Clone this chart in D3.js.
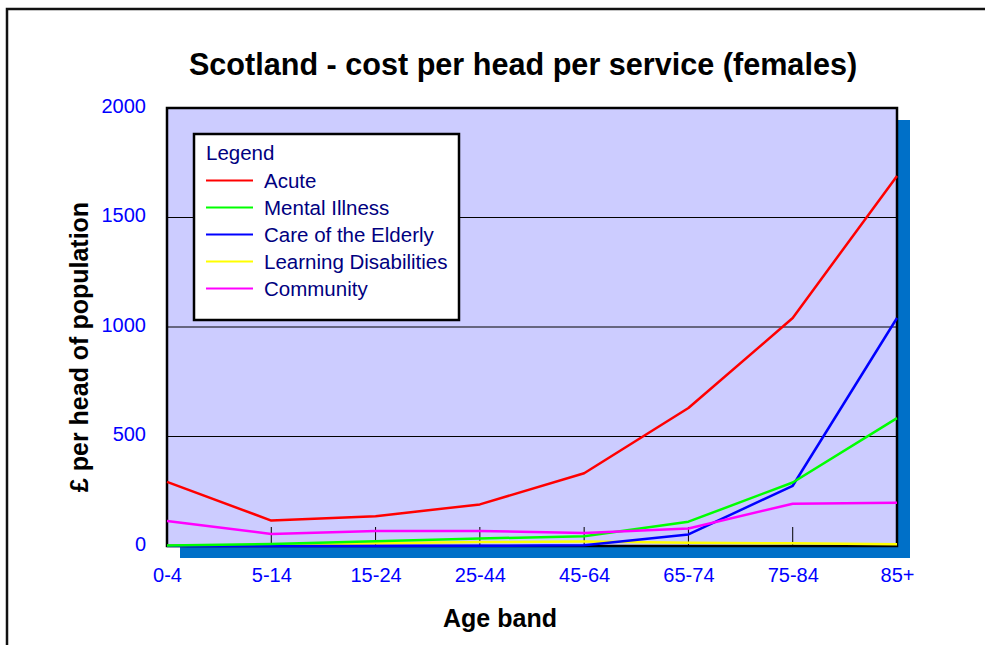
<!DOCTYPE html>
<html>
<head>
<meta charset="utf-8">
<script src="https://cdn.jsdelivr.net/npm/d3@7"></script>
<style>
  html, body { margin: 0; padding: 0; background: #fff; }
  svg { display: block; font-family: "Liberation Sans", Arial, sans-serif; }
</style>
</head>
<body>
<svg id="chart" width="985" height="645"></svg>
<script>
// Age bands along the x axis
const ageBands = ["0-4", "5-14", "15-24", "25-44", "45-64", "65-74", "75-84", "85+"];

// Cost per head (£) by service
const acute = [293, 116, 136, 190, 332, 630, 1041, 1690];
const mentalIllness = [2, 9, 22, 34, 45, 111, 290, 584];
const careOfElderly = [0, 0, 0, 1, 3, 53, 275, 1041];
const learningDisabilities = [0, 5, 12, 18, 20, 15, 12, 8];
const community = [114, 55, 69, 69, 59, 80, 193, 198];

const yTicks = [0, 500, 1000, 1500, 2000];

const services = [
  { name: "Acute", values: acute, color: "#ff0000" },
  { name: "Mental Illness", values: mentalIllness, color: "#00ff00" },
  { name: "Care of the Elderly", values: careOfElderly, color: "#0000ff" },
  { name: "Learning Disabilities", values: learningDisabilities, color: "#ffff00" },
  { name: "Community", values: community, color: "#ff00ff" }
];
// drawing order: bottom lines first so the larger ones sit on top
const drawOrder = ["Learning Disabilities", "Care of the Elderly", "Mental Illness", "Community", "Acute"];

const svg = d3.select("#chart");
const plot = { left: 167, top: 108, right: 897, bottom: 546 };

// outer frame
svg.append("rect")
  .attr("x", 7).attr("y", 9)
  .attr("width", 1000).attr("height", 700)
  .attr("fill", "none").attr("stroke", "#111").attr("stroke-width", 2.5);

const x = d3.scalePoint().domain(ageBands).range([plot.left, plot.right]);
const y = d3.scaleLinear().domain([0, 2000]).range([plot.bottom, plot.top]);

// drop shadow of the plot area
svg.append("rect")
  .attr("x", plot.left + 13).attr("y", plot.top + 12)
  .attr("width", plot.right - plot.left).attr("height", plot.bottom - plot.top)
  .attr("fill", "#0070c8");

// plot background
svg.append("rect")
  .attr("x", plot.left).attr("y", plot.top)
  .attr("width", plot.right - plot.left).attr("height", plot.bottom - plot.top)
  .attr("fill", "#ccccff");

// horizontal gridlines
svg.append("g")
  .selectAll("line")
  .data(yTicks.filter(d => d > 0 && d < 2000))
  .join("line")
  .attr("x1", plot.left).attr("x2", plot.right)
  .attr("y1", d => y(d)).attr("y2", d => y(d))
  .attr("stroke", "#000").attr("stroke-width", 1);

// small category tick marks rising from the base line
svg.append("g")
  .selectAll("line")
  .data(ageBands.slice(1, -1))
  .join("line")
  .attr("x1", d => x(d)).attr("x2", d => x(d))
  .attr("y1", plot.bottom - 19).attr("y2", plot.bottom)
  .attr("stroke", "#000").attr("stroke-width", 1);

// plot border
svg.append("rect")
  .attr("x", plot.left).attr("y", plot.top)
  .attr("width", plot.right - plot.left).attr("height", plot.bottom - plot.top)
  .attr("fill", "none").attr("stroke", "#000").attr("stroke-width", 2.5);

// series lines
const line = d3.line()
  .x((d, i) => x(ageBands[i]))
  .y(d => y(d));

svg.append("g")
  .selectAll("path")
  .data(drawOrder.map(n => services.find(s => s.name === n)))
  .join("path")
  .attr("d", d => line(d.values))
  .attr("fill", "none")
  .attr("stroke", d => d.color)
  .attr("stroke-width", 2.5)
  .attr("stroke-linejoin", "round");

// y axis labels
const yAxis = d3.axisLeft(y).tickValues(yTicks).tickFormat(d3.format("d")).tickSize(0).tickPadding(21);
const gy = svg.append("g").attr("transform", `translate(${plot.left},0)`).call(yAxis);
gy.select(".domain").remove();
gy.selectAll("text")
  .attr("fill", "#0000ff")
  .style("font-size", "20px")
  .style("font-family", "Liberation Sans, Arial, sans-serif")
  .attr("dy", "0.2em");

// x axis labels
const xAxis = d3.axisBottom(x).tickSize(0).tickPadding(22);
const gx = svg.append("g").attr("transform", `translate(0,${plot.bottom})`).call(xAxis);
gx.select(".domain").remove();
gx.selectAll("text")
  .attr("fill", "#0000ff")
  .style("font-size", "20px")
  .style("font-family", "Liberation Sans, Arial, sans-serif");

// title
svg.append("text")
  .attr("x", 523).attr("y", 75)
  .attr("text-anchor", "middle")
  .style("font-size", "30.6px").style("font-weight", "bold")
  .text("Scotland - cost per head per service (females)");

// axis titles
svg.append("text")
  .attr("x", 500).attr("y", 627)
  .attr("text-anchor", "middle")
  .style("font-size", "25px").style("font-weight", "bold")
  .text("Age band");

svg.append("text")
  .attr("transform", "translate(88,347) rotate(-90)")
  .attr("text-anchor", "middle")
  .style("font-size", "25px").style("font-weight", "bold")
  .text("£ per head of population");

// legend
const legend = svg.append("g").attr("transform", "translate(194,134)");
legend.append("rect")
  .attr("x", 1).attr("y", 1)
  .attr("width", 265).attr("height", 186)
  .attr("fill", "#888");
legend.append("rect")
  .attr("width", 265).attr("height", 186)
  .attr("fill", "#fff").attr("stroke", "#000").attr("stroke-width", 2.5);
legend.append("text")
  .attr("x", 12).attr("y", 26)
  .attr("fill", "#000080")
  .style("font-size", "20.5px")
  .text("Legend");
const rows = legend.selectAll("g.row")
  .data(services)
  .join("g")
  .attr("class", "row")
  .attr("transform", (d, i) => `translate(0,${46.5 + i * 27})`);
rows.append("line")
  .attr("x1", 12).attr("x2", 59)
  .attr("stroke", d => d.color).attr("stroke-width", 2);
rows.append("text")
  .attr("x", 70).attr("y", 7)
  .attr("fill", "#000080")
  .style("font-size", "20.5px")
  .text(d => d.name);
</script>
</body>
</html>
